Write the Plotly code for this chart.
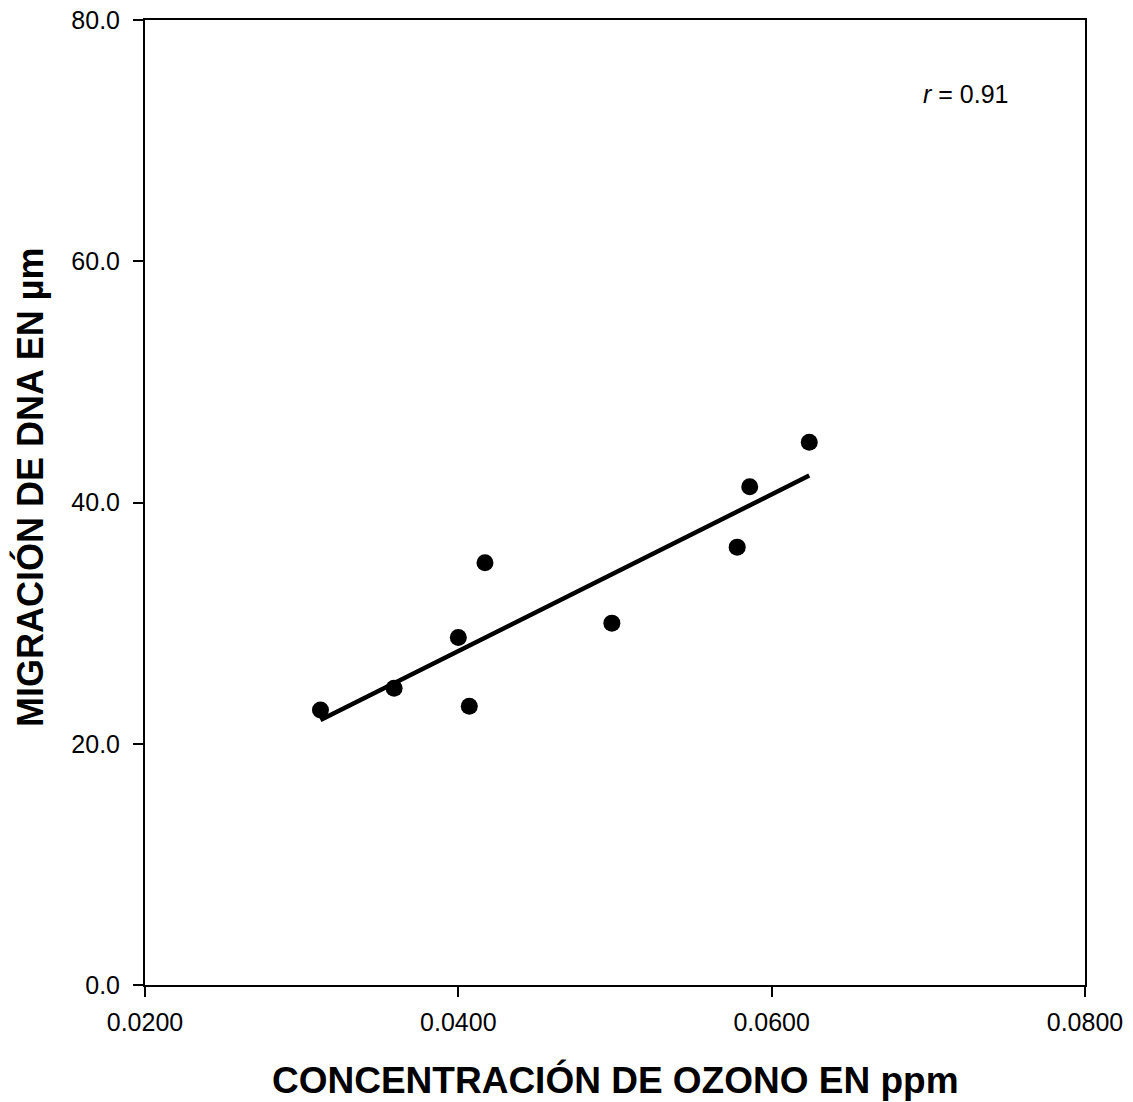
import numpy as np
import plotly.graph_objects as go

# Ozone concentration (ppm) and DNA migration (µm)
ozono_ppm = [0.0312, 0.0359, 0.0400, 0.0407, 0.0417, 0.0498, 0.0578, 0.0586, 0.0624]
migracion_um = [22.8, 24.6, 28.8, 23.1, 35.0, 30.0, 36.3, 41.3, 45.0]

x_ticks = [0.02, 0.04, 0.06, 0.08]
x_tick_labels = ["0.0200", "0.0400", "0.0600", "0.0800"]
y_ticks = [0, 20, 40, 60, 80]
y_tick_labels = ["0.0", "20.0", "40.0", "60.0", "80.0"]

FONT = "Liberation Sans, Arial, sans-serif"
W, H = 1133, 1102
M_L, M_R, M_T, M_B = 145, 48, 20, 117

x = np.array(ozono_ppm)
y = np.array(migracion_um)
slope, intercept = np.polyfit(x, y, 1)
x_fit = np.array([x.min(), x.max()])
y_fit = slope * x_fit + intercept

fig = go.Figure()
fig.add_trace(go.Scatter(
    x=x_fit, y=y_fit, mode="lines",
    line=dict(color="black", width=4.5),
    showlegend=False, hoverinfo="skip",
))
fig.add_trace(go.Scatter(
    x=ozono_ppm, y=migracion_um, mode="markers",
    marker=dict(color="black", size=17),
    showlegend=False,
))

fig.add_annotation(
    x=0.0724, y=73.9, xref="x", yref="y",
    text="<i>r</i> = 0.91", showarrow=False,
    font=dict(family=FONT, size=25, color="black"),
)

# Axis titles placed in paper coordinates
plot_w = W - M_L - M_R
plot_h = H - M_T - M_B
fig.add_annotation(
    x=(615 - M_L) / plot_w, y=-(1080 - (H - M_B)) / plot_h,
    xref="paper", yref="paper", xanchor="center", yanchor="middle",
    text="<b>CONCENTRACIÓN DE OZONO EN ppm</b>", showarrow=False,
    font=dict(family=FONT, size=37, color="black"),
)
fig.add_annotation(
    x=-(M_L - 30) / plot_w, y=((H - M_B) - 488) / plot_h,
    xref="paper", yref="paper", xanchor="center", yanchor="middle",
    text="<b>MIGRACIÓN DE DNA EN µm</b>", showarrow=False, textangle=-90,
    font=dict(family=FONT, size=36, color="black"),
)

axis_common = dict(
    showline=True, linecolor="black", linewidth=2, mirror=True,
    showgrid=False, zeroline=False, automargin=False,
    ticks="outside", ticklen=10, tickwidth=1.5, tickcolor="black",
    tickfont=dict(family=FONT, size=25, color="black"),
)

fig.update_xaxes(
    range=[0.02, 0.08], tickvals=x_ticks, ticktext=x_tick_labels,
    ticklabelstandoff=4,
    **axis_common,
)
fig.update_yaxes(
    range=[0, 80], tickvals=y_ticks, ticktext=y_tick_labels,
    ticklabelstandoff=8,
    **axis_common,
)

fig.update_layout(
    width=W, height=H,
    margin=dict(l=M_L, r=M_R, t=M_T, b=M_B),
    paper_bgcolor="white", plot_bgcolor="white",
)

fig.write_html("out.html")
